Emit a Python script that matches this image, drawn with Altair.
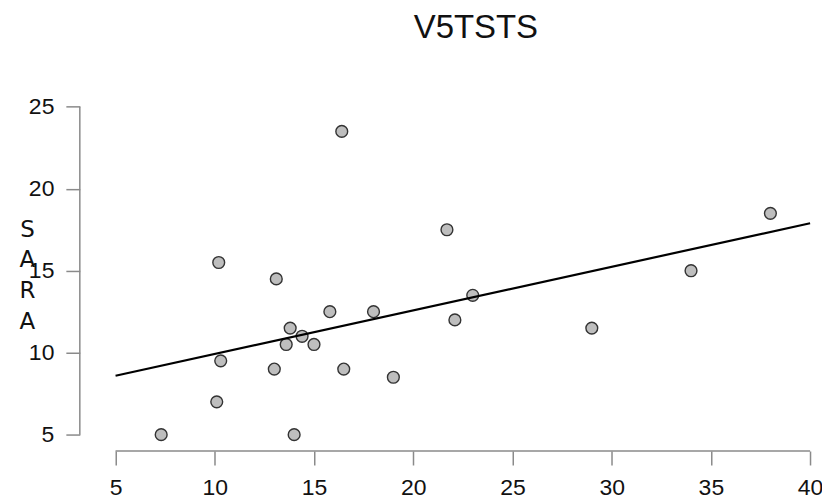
import altair as alt
import pandas as pd

# Data
v5tsts = [16.4, 21.7, 10.2, 13.1, 23.0, 15.8, 18.0, 22.1, 13.8, 14.4, 13.6,
          15.0, 10.3, 13.0, 16.5, 19.0, 10.1, 7.3, 14.0, 38.0, 34.0, 29.0]
sara = [23.5, 17.5, 15.5, 14.5, 13.5, 12.5, 12.5, 12.0, 11.5, 11.0, 10.5,
        10.5, 9.5, 9.0, 9.0, 8.5, 7.0, 5.0, 5.0, 18.5, 15.0, 11.5]
x_ticks = [5, 10, 15, 20, 25, 30, 35, 40]
y_ticks = [5, 10, 15, 20, 25]

df = pd.DataFrame({"V5TSTS": v5tsts, "SARA": sara})

X_DOMAIN = [3.2, 40.6]
Y_DOMAIN = [4, 26]
AXIS_COLOR = "#8a8a8a"

xscale = alt.Scale(domain=X_DOMAIN, nice=False, zero=False)
yscale = alt.Scale(domain=Y_DOMAIN, nice=False, zero=False)

xaxis = alt.Axis(values=x_ticks, domain=False, grid=False, tickSize=14,
                 tickColor=AXIS_COLOR, tickWidth=1.5, labelFontSize=23,
                 labelFont="Liberation Sans", labelColor="#111111",
                 labelPadding=12, title=None, format="d")
yaxis = alt.Axis(values=y_ticks, domain=False, grid=False, tickSize=14,
                 tickColor=AXIS_COLOR, tickWidth=1.5, labelFontSize=23,
                 labelFont="Liberation Sans", labelColor="#111111",
                 labelPadding=12, labelAngle=0, format="d",
                 title=["S", "A", "R", "A"], titleAngle=0,
                 titleFont="DejaVu Sans", titleFontSize=23,
                 titleFontWeight="normal", titleColor="#111111",
                 titleAlign="center", titleBaseline="alphabetic",
                 titleLineHeight=31, titleX=-53, titleY=146)

base = alt.Chart(df)

points = base.mark_point(filled=True, shape="circle", size=140,
                         fill="#bebebe", stroke="#333333", strokeWidth=1.4,
                         opacity=1).encode(
    x=alt.X("V5TSTS:Q", scale=xscale, axis=xaxis),
    y=alt.Y("SARA:Q", scale=yscale, axis=yaxis),
)

fit = base.transform_regression(
    "V5TSTS", "SARA", extent=[x_ticks[0], x_ticks[-1]]
).mark_line(color="black", strokeWidth=2.2).encode(
    x=alt.X("V5TSTS:Q", scale=xscale),
    y=alt.Y("SARA:Q", scale=yscale),
)

x_domain_line = alt.Chart(pd.DataFrame({"a": [0]})).mark_rule(
    color=AXIS_COLOR, strokeWidth=1.5).encode(
    x=alt.datum(x_ticks[0]), x2=alt.datum(x_ticks[-1]), y=alt.datum(Y_DOMAIN[0])
)
y_domain_line = alt.Chart(pd.DataFrame({"a": [0]})).mark_rule(
    color=AXIS_COLOR, strokeWidth=1.5).encode(
    y=alt.datum(y_ticks[0]), y2=alt.datum(y_ticks[-1]), x=alt.datum(X_DOMAIN[0])
)

chart = alt.layer(points, fit, x_domain_line, y_domain_line).properties(
    width=744,
    height=361.5,
    background="white",
    title=alt.TitleParams(text="V5TSTS", font="Liberation Sans", fontSize=33,
                          fontWeight="normal", color="#111111",
                          anchor="middle", frame="group", dx=25, offset=46,
                          orient="top"),
    autosize=alt.AutoSizeParams(type="none"),
    padding={"left": 72, "top": 82, "right": 0, "bottom": 50},
).configure_view(stroke=None)

chart.save("out.html", embed_options={"renderer": "svg", "actions": False})
